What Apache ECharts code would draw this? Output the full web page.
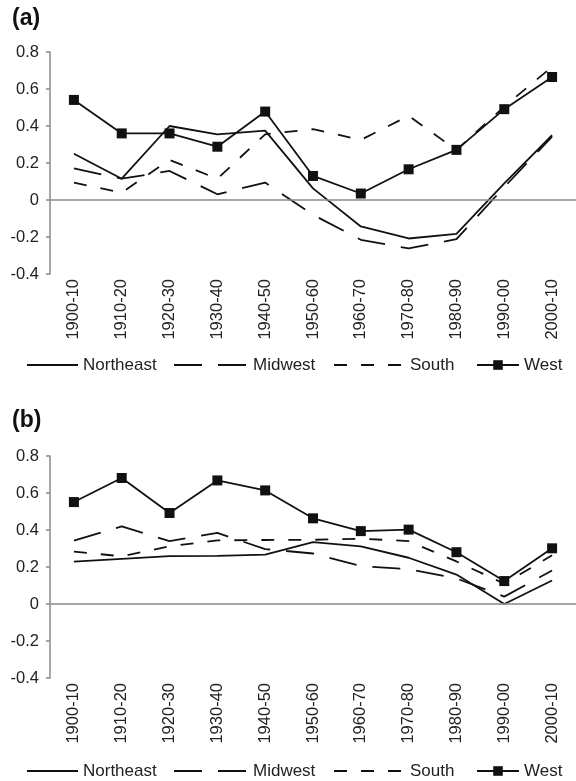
<!DOCTYPE html>
<html>
<head>
<meta charset="utf-8">
<script src="https://cdn.jsdelivr.net/npm/echarts@6/dist/echarts.min.js"></script>
<style>
html,body{margin:0;padding:0;background:#fff;}
#chart{width:576px;height:781px;}
</style>
</head>
<body>
<div id="chart"></div>
<script>
const categories = ['1900-10','1910-20','1920-30','1930-40','1940-50','1950-60','1960-70','1970-80','1980-90','1990-00','2000-10'];
const yTicks = [-0.4, -0.2, 0, 0.2, 0.4, 0.6, 0.8];

// Panel (a)
const northeastA = [0.25, 0.115, 0.40, 0.355, 0.375, 0.063, -0.143, -0.208, -0.183, 0.09, 0.35];
const midwestA   = [0.171, 0.115, 0.157, 0.031, 0.094, -0.08, -0.215, -0.262, -0.212, 0.07, 0.343];
const southA     = [0.094, 0.04, 0.217, 0.115, 0.355, 0.383, 0.325, 0.455, 0.27, 0.505, 0.72];
const westA      = [0.541, 0.36, 0.36, 0.288, 0.478, 0.13, 0.035, 0.166, 0.271, 0.491, 0.665];

// Panel (b)
const northeastB = [0.229, 0.244, 0.259, 0.26, 0.267, 0.335, 0.312, 0.25, 0.159, 0.0, 0.127];
const midwestB   = [0.342, 0.42, 0.34, 0.384, 0.297, 0.273, 0.205, 0.188, 0.138, 0.04, 0.181];
const southB     = [0.283, 0.258, 0.312, 0.344, 0.346, 0.347, 0.353, 0.34, 0.23, 0.11, 0.263];
const westB      = [0.551, 0.681, 0.492, 0.668, 0.614, 0.463, 0.394, 0.402, 0.28, 0.124, 0.301];

const seriesNames = ['Northeast', 'Midwest', 'South', 'West'];

const FONT = '"Liberation Sans", Arial, sans-serif';
const LINE = '#111';
const AXIS = '#8a8a8a';
const TEXT = '#222';

const styles = {
  Northeast: { type: 'solid', symbol: 'none' },
  Midwest: { type: [28, 16], symbol: 'none' },
  South: { type: [13, 14], symbol: 'none' },
  West: { type: 'solid', symbol: 'rect' }
};

function makeGrid(top) {
  return { left: 50, right: 0, top: top, height: 222, containLabel: false };
}
function xAxis(gi) {
  return {
    type: 'category', gridIndex: gi, data: categories, boundaryGap: true,
    axisLine: { show: false, onZero: false },
    axisTick: { show: false },
    axisLabel: { rotate: 90, margin: 5, color: TEXT, fontFamily: FONT, fontSize: 16.5, interval: 0 }
  };
}
function yAxis(gi) {
  return {
    type: 'value', gridIndex: gi, min: yTicks[0], max: yTicks[yTicks.length - 1], interval: 0.2,
    axisLine: { show: true, lineStyle: { color: AXIS, width: 1.5 } },
    axisTick: { show: true, length: 4, lineStyle: { color: AXIS, width: 1.5 } },
    splitLine: { show: false },
    axisLabel: { margin: 11, color: TEXT, fontFamily: FONT, fontSize: 16.5,
      formatter: v => (Math.abs(v) < 1e-9 ? '0' : String(Math.round(v * 10) / 10)) }
  };
}
function mkSeries(name, data, gi, withZero) {
  const st = styles[name];
  const s = {
    name: name, type: 'line', xAxisIndex: gi, yAxisIndex: gi, data: data,
    symbol: st.symbol, symbolSize: 10, showSymbol: st.symbol !== 'none',
    lineStyle: { color: LINE, width: 1.8, type: st.type },
    itemStyle: { color: LINE },
    emphasis: { disabled: true }, animation: false, z: 3
  };
  if (withZero) {
    s.markLine = {
      silent: true, symbol: 'none', label: { show: false }, animation: false,
      lineStyle: { color: AXIS, width: 1.5, type: 'solid' },
      data: [{ yAxis: 0 }]
    };
  }
  return s;
}

const legendLayout = {
  Northeast: { left: 26, w: 51 },
  Midwest: { left: 173, w: 74 },
  South: { left: 333, w: 71 },
  West: { left: 476, w: 42 }
};
function mkLegends(top) {
  return seriesNames.map(n => ({
    data: [n], left: legendLayout[n].left, top: top, padding: 0,
    itemWidth: legendLayout[n].w, itemHeight: 12, itemGap: 0,
    selectedMode: false,
    itemStyle: n === 'West' ? {} : { opacity: 0 },
    textStyle: { color: TEXT, fontFamily: FONT, fontSize: 17, lineHeight: 18, padding: [0, 0, 0, 0] }
  }));
}

const chart = echarts.init(document.getElementById('chart'), null, { renderer: 'canvas' });
chart.setOption({
  backgroundColor: '#fff',
  animation: false,
  title: [
    { text: '(a)', left: 12, top: 7, padding: 0, textStyle: { fontFamily: FONT, fontWeight: 'bold', fontSize: 23, color: '#111' } },
    { text: '(b)', left: 12, top: 409, padding: 0, textStyle: { fontFamily: FONT, fontWeight: 'bold', fontSize: 23, color: '#111' } }
  ],
  grid: [makeGrid(52), makeGrid(456)],
  xAxis: [xAxis(0), xAxis(1)],
  yAxis: [yAxis(0), yAxis(1)],
  legend: mkLegends(356).concat(mkLegends(762)),
  series: [
    mkSeries('Northeast', northeastA, 0, true),
    mkSeries('Midwest', midwestA, 0, false),
    mkSeries('South', southA, 0, false),
    mkSeries('West', westA, 0, false),
    mkSeries('Northeast', northeastB, 1, true),
    mkSeries('Midwest', midwestB, 1, false),
    mkSeries('South', southB, 1, false),
    mkSeries('West', westB, 1, false)
  ]
});
</script>
</body>
</html>
